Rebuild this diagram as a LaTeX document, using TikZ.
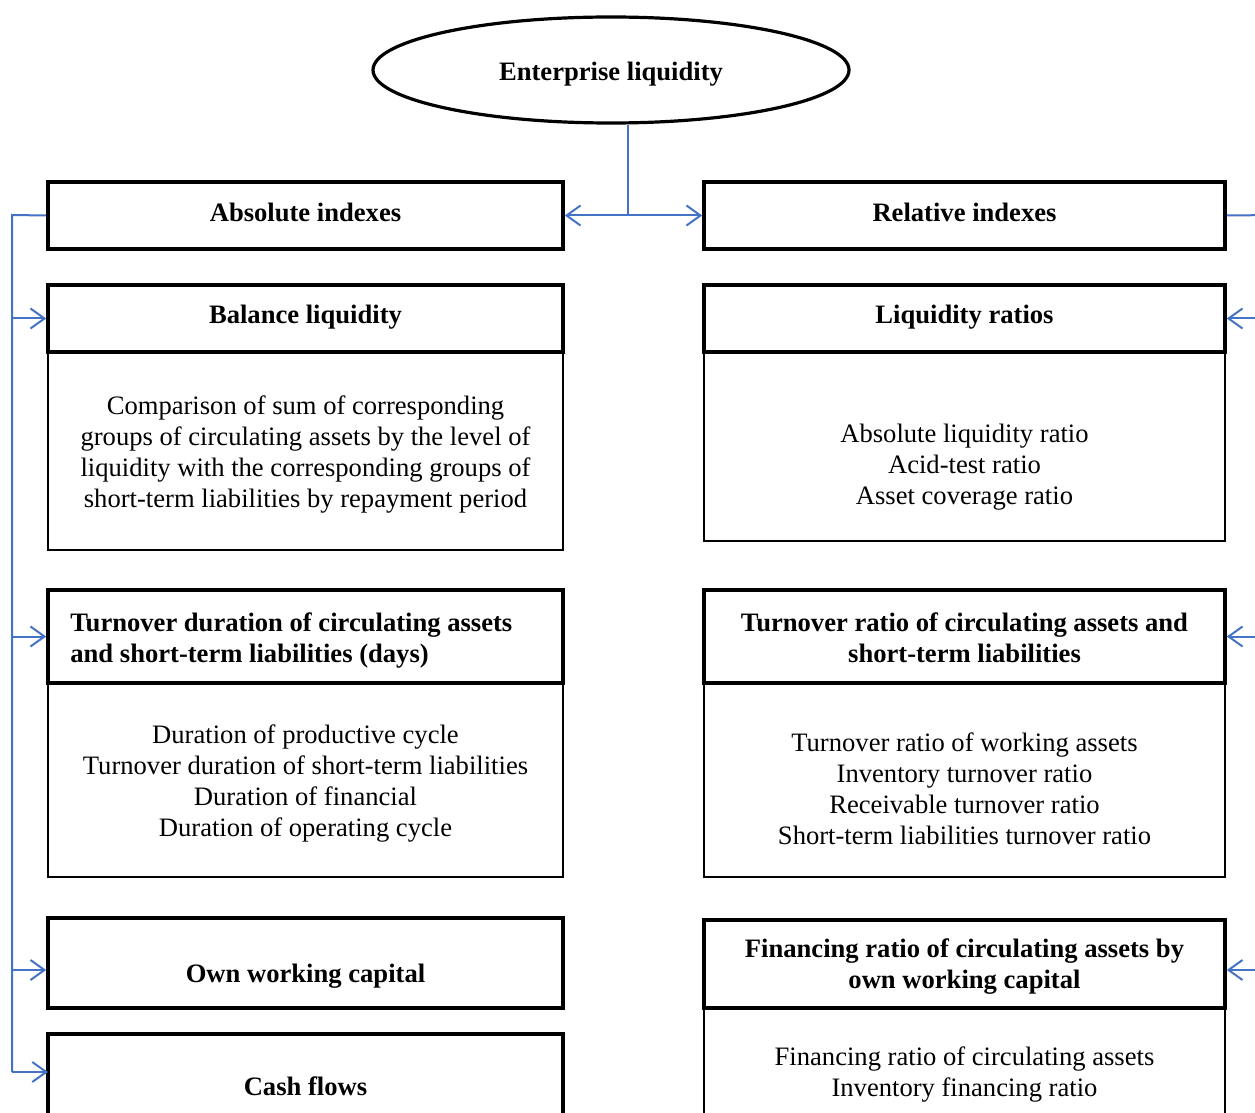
\documentclass[tikz,border=0pt]{standalone}
\usepackage{fontspec}
\setmainfont{Liberation Serif}
\usetikzlibrary{arrows.meta,shapes.geometric}
\begin{document}
\begin{tikzpicture}[x=0.5pt,y=-0.5pt,
  every node/.style={font=\fontsize{13.3}{15.5}\selectfont},
  hdr/.style={draw=black,line width=1.8pt,rectangle,inner sep=0pt},
  bodybox/.style={draw=black,line width=0.8pt,rectangle,inner sep=0pt},
  lbl/.style={align=center,inner sep=0pt,font=\fontsize{13.3}{15.5}\selectfont\bfseries},
  txt/.style={align=center,inner sep=0pt},
  conn/.style={draw={rgb,255:red,68;green,114;blue,196},line width=1pt},
  tip/.style={-{Straight Barb[length=7pt,width=10pt,line width=1pt]}},
  tips/.style={{Straight Barb[length=7pt,width=10pt,line width=1pt]}-{Straight Barb[length=7pt,width=10pt,line width=1pt]}}]
\useasboundingbox (0,0) rectangle (1255,1113);
\fill[white] (0,0) rectangle (1255,1113);

% ellipse
\node[ellipse,draw=black,line width=1.6pt,minimum width=238pt,minimum height=53pt,inner sep=0pt] (ell) at (611,70) {};
\node[lbl,anchor=base] (elltxt) at (611,81) {Enterprise liquidity};

% left column
\node[hdr,minimum width=257.5pt,minimum height=33.5pt] (abs) at (305.5,215.5) {};
\node[lbl,anchor=base] (abstxt) at (305.5,221) {Absolute indexes};

\node[bodybox,minimum width=257.5pt,minimum height=99pt] (balb) at (305.5,451) {};
\node[hdr,minimum width=257.5pt,minimum height=33.5pt] (bal) at (305.5,318.5) {};
\node[lbl,anchor=base] (baltxt) at (305.5,323) {Balance liquidity};
\node[txt] (balbt) at (305.5,455) {Comparison of sum of corresponding\\groups of circulating assets by the level of\\liquidity with the corresponding groups of\\short-term liabilities by repayment period};

\node[bodybox,minimum width=257.5pt,minimum height=97pt] (tdurb) at (305.5,780) {};
\node[hdr,minimum width=257.5pt,minimum height=46.5pt] (tdur) at (305.5,636.5) {};
\node[lbl,anchor=west,align=left] (tdurtxt) at (70,641) {Turnover duration of circulating assets\\and short-term liabilities (days)};
\node[txt] (tdurbt) at (305.5,784) {Duration of productive cycle\\Turnover duration of short-term liabilities\\Duration of financial\\Duration of operating cycle};

\node[hdr,minimum width=257.5pt,minimum height=45pt] (own) at (305.5,963) {};
\node[lbl,anchor=base] (owntxt) at (305.5,982) {Own working capital};

\node[hdr,minimum width=257.5pt,minimum height=63pt] (cash) at (305.5,1097) {};
\node[lbl,anchor=base] (cashtxt) at (305.5,1095) {Cash flows};

% right column
\node[hdr,minimum width=260.5pt,minimum height=33.5pt] (rel) at (964.5,215.5) {};
\node[lbl,anchor=base] (reltxt) at (964.5,221) {Relative indexes};

\node[bodybox,minimum width=260.5pt,minimum height=94.5pt] (liqb) at (964.5,446.5) {};
\node[hdr,minimum width=260.5pt,minimum height=33.5pt] (liq) at (964.5,318.5) {};
\node[lbl,anchor=base] (liqtxt) at (964.5,323) {Liquidity ratios};
\node[txt] (liqbt) at (964.5,467) {Absolute liquidity ratio\\Acid-test ratio\\Asset coverage ratio};

\node[bodybox,minimum width=260.5pt,minimum height=97pt] (tratb) at (964.5,780) {};
\node[hdr,minimum width=260.5pt,minimum height=46.5pt] (trat) at (964.5,636.5) {};
\node[lbl] (trattxt) at (964.5,638) {Turnover ratio of circulating assets and\\short-term liabilities};
\node[txt] (tratbt) at (964.5,789) {Turnover ratio of working assets\\Inventory turnover ratio\\Receivable turnover ratio\\Short-term liabilities turnover ratio};

\node[bodybox,minimum width=260.5pt,minimum height=76pt] (finb) at (964.5,1084) {};
\node[hdr,minimum width=260.5pt,minimum height=44pt] (fin) at (964.5,964) {};
\node[lbl] (fintxt) at (964.5,967) {Financing ratio of circulating assets by\\own working capital};
\node[txt] (finbt) at (964.5,1075) {Financing ratio of circulating assets\\Inventory financing ratio};

% connectors
\coordinate (J) at (628,215);
\draw[conn] (J |- ell.south) -- (J);
\draw[conn,tips] (abs.east) -- (rel.west);

\coordinate (L) at (12,215);
\coordinate (cashin) at (48,1072);
\draw[conn] (abs.west) -- (L) -- (L |- cashin);
\draw[conn,tip] (L |- bal.west) -- (bal.west);
\draw[conn,tip] (L |- tdur.west) -- (tdur.west);
\draw[conn,tip] ([yshift=-3.5pt]own.west -| L) -- ([yshift=-3.5pt]own.west);
\draw[conn,tip] (L |- cashin) -- (cashin);

\coordinate (R) at (1275,215);
\draw[conn] (rel.east) -- (R) -- (R |- fin.east);
\draw[conn,tip] (R |- liq.east) -- (liq.east);
\draw[conn,tip] (R |- trat.east) -- (trat.east);
\draw[conn,tip] ([yshift=-3pt]fin.east -| R) -- ([yshift=-3pt]fin.east);
\end{tikzpicture}
\end{document}
